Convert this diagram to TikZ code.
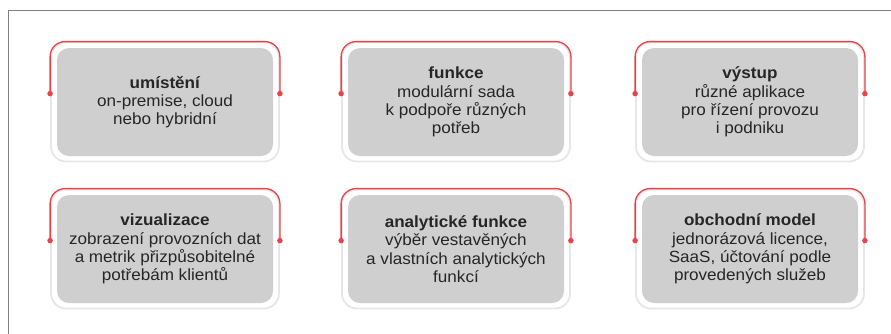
\documentclass[tikz,border=0pt]{standalone}
\usepackage{fontspec}
\setmainfont{Liberation Sans}[FakeStretch=1.055]
\usetikzlibrary{calc}
\definecolor{boxgray}{RGB}{207,207,207}
\definecolor{rimgray}{RGB}{230,230,230}
\definecolor{accent}{RGB}{234,66,72}
\definecolor{framegray}{RGB}{128,128,128}
\definecolor{txt}{RGB}{38,38,38}
\tikzset{
  outerbox/.style={draw=rimgray, line width=1.8pt, fill=white, rounded corners=15pt,
    minimum width=228pt, minimum height=119pt, inner sep=0pt},
  innerbox/.style={fill=boxgray, rounded corners=12pt, minimum width=216pt,
    minimum height=108pt, inner sep=0pt, align=center, text=txt,
    font=\fontsize{16.2pt}{18.3pt}\selectfont},
  redline/.style={draw=accent, line width=1.3pt, rounded corners=15pt},
  reddot/.style={circle, fill=accent, inner sep=0pt, minimum size=5.5pt},
  frameline/.style={draw=framegray, line width=1.5pt}
}
\newcommand{\panel}[4]{%
  \node[outerbox] (o#1) at (#2,#3) {};
  \node[innerbox] (t#1) at (#2,#3) {#4};
  \coordinate (l#1) at ($(o#1.north west)+(0pt,-52pt)$);
  \coordinate (r#1) at ($(o#1.north east)+(0pt,-52pt)$);
  \draw[redline] (l#1) |- (o#1.north) -| (r#1);
  \node[reddot] at (l#1) {};
  \node[reddot] at (r#1) {};
}
\begin{document}
\begin{tikzpicture}[x=1pt,y=-1pt]
\useasboundingbox (0,0) rectangle (891,333);
\coordinate (fb) at (8.5,334);
\coordinate (fc) at (8.5,10.5);
\coordinate (fr) at (892,10.5);
\draw[frameline] (fb) -- (fc) -- (fr);
\panel{1}{165}{102}{\textbf{umístění}\\on-premise, cloud\\nebo hybridní}
\panel{2}{456}{102}{\textbf{funkce}\\modulární sada\\k podpoře různých\\potřeb}
\panel{3}{750}{102}{\textbf{výstup}\\různé aplikace\\pro řízení provozu\\i podniku}
\panel{4}{165}{249}{\textbf{vizualizace}\\zobrazení provozních dat\\a metrik přizpůsobitelné\\potřebám klientů}
\panel{5}{456}{249}{\textbf{analytické funkce}\\výběr vestavěných\\a vlastních analytických\\funkcí}
\panel{6}{750}{249}{\textbf{obchodní model}\\jednorázová licence,\\SaaS, účtování podle\\provedených služeb}
\end{tikzpicture}
\end{document}
